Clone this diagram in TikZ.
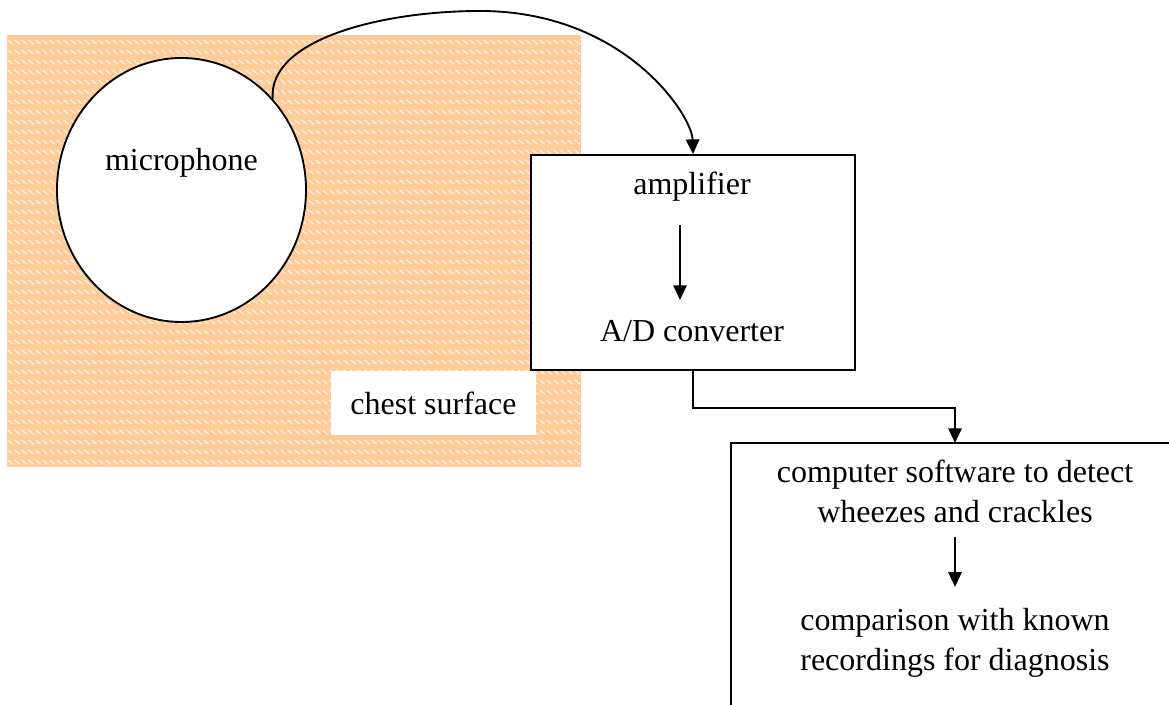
\documentclass[tikz,border=0pt]{standalone}
\usepackage{fontspec}
\setmainfont{Liberation Serif}
\usetikzlibrary{arrows.meta,shapes.geometric,patterns}
\definecolor{chest}{HTML}{FFCC99}
\pgfdeclarepatternformonly{chest dashes}{\pgfpointorigin}{\pgfqpoint{5.6pt}{7.8pt}}{\pgfqpoint{5.6pt}{7.8pt}}{\pgfsetlinewidth{0.7pt}\pgfpathmoveto{\pgfqpoint{0.6pt}{5.6pt}}\pgfpathlineto{\pgfqpoint{4.4pt}{2.2pt}}\pgfusepath{stroke}}
\tikzset{box/.style={draw=black,line width=1.4pt,fill=white,inner sep=0pt},lab/.style={font=\fontsize{24}{30}\selectfont,align=center,inner sep=0pt},arrow/.style={-{Triangle[length=11pt,width=10pt]},line width=1.4pt}}
\begin{document}
\begin{tikzpicture}[x=0.75pt,y=-0.75pt]
\useasboundingbox (0,0) rectangle (1169,705);
\clip (0,0) rectangle (1169,705);
\fill[chest] (7,35) rectangle (581,467);
\fill[pattern=chest dashes,pattern color=white] (7,35) rectangle (581,467);
\node[lab,fill=white,minimum width=153.75pt,minimum height=48pt] (chestlab) at (433.5,403) {chest surface};
\node[box,ellipse,minimum width=186.75pt,minimum height=198pt] (mic) at (181.5,190) {};
\node[lab,anchor=base] (miclab) at (181.5,171) {microphone};
\node[box,minimum width=243pt,minimum height=161.25pt] (amp) at (693,262.5) {};
\node[lab,anchor=base] (amplab) at (692,195) {amplifier};
\node[lab,anchor=base] (adclab) at (692,342) {A/D converter};
\node[box,minimum width=352pt,minimum height=216pt] (soft) at (965.5,587) {};
\node[lab] (detect) at (955,491) {computer software to detect\\wheezes and crackles};
\node[lab] (compare) at (955,643) {comparison with known\\recordings for diagnosis};
\coordinate (softin) at (955,443);
\draw[arrow] (mic.45) .. controls (268,40) and (380,11) .. (480,11) .. controls (624,11) and (692,115) .. (amp.north);
\draw[arrow,shorten <=17pt,shorten >=15.5pt] ([xshift=-9pt]amplab.south) -- ([xshift=-9pt]amplab.south |- adclab.north);
\draw[arrow] (amp.south) -- ++(0,37) -| (softin);
\draw[arrow,shorten <=11pt,shorten >=16pt] (detect.south) -- (detect.south |- compare.north);
\end{tikzpicture}
\end{document}
